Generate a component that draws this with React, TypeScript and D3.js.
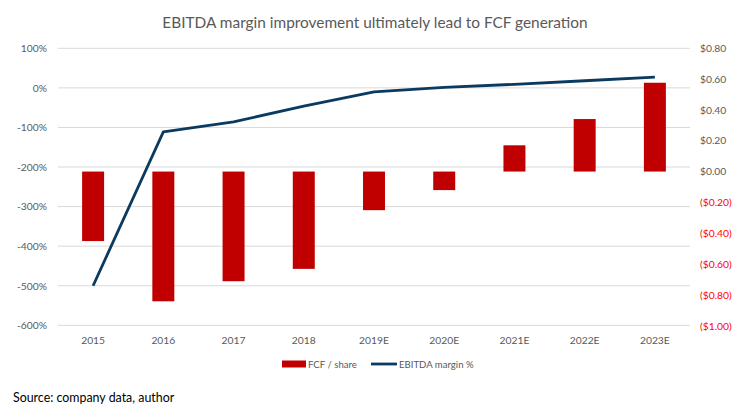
import * as d3 from 'd3'
import { type ReactElement } from 'react'

const years = ['2015', '2016', '2017', '2018', '2019E', '2020E', '2021E', '2022E', '2023E']
const fcfPerShare = [-0.45, -0.84, -0.71, -0.63, -0.25, -0.12, 0.17, 0.34, 0.575]
const ebitdaMargin = [-500, -111, -86, -46, -10, 1, 9, 18, 27]

const title = 'EBITDA margin improvement ultimately lead to FCF generation'
const source = 'Source: company data, author'

const width = 745
const height = 415
const plot = { left: 58, right: 690, top: 48.3, bottom: 325.3 }

const font = 'Lato, "Open Sans", sans-serif'
const grey = '#595959'
const barColor = '#c00000'
const lineColor = '#0a3a60'

function formatDollar(v: number): string {
  const r = Math.round(v * 100) / 100
  if (r < 0) return `($${Math.abs(r).toFixed(2)})`
  return `$${Math.abs(r).toFixed(2)}`
}

export default function App(): ReactElement {
  const x = d3.scaleBand<string>().domain(years).range([plot.left, plot.right]).paddingInner(0.687).paddingOuter(0.3435)
  const yLeft = d3.scaleLinear().domain([-600, 100]).range([plot.bottom, plot.top])
  const yRight = d3.scaleLinear().domain([-1, 0.8]).range([plot.bottom + 0.7, plot.top - 0.3])

  const center = (c: string) => (x(c) ?? 0) + x.bandwidth() / 2
  const leftTicks = yLeft.ticks(7)
  const rightTicks = d3.range(10).map((i) => -1 + i * 0.2)

  const line = d3
    .line<number>()
    .x((_, i) => center(years[i]!))
    .y((d) => yLeft(d))

  return (
    <svg
      width={width}
      height={height}
      style={{ position: 'absolute', left: 0, top: 0, background: '#fff' }}
      fontFamily={font}
    >
      <text x={375} y={28} textAnchor="middle" fontSize={15.4} fill={grey}>
        {title}
      </text>

      {leftTicks.map((t) => (
        <g key={t}>
          <line x1={plot.left} x2={plot.right} y1={yLeft(t)} y2={yLeft(t)} stroke="#d9d9d9" strokeWidth={1} />
          <text x={47} y={yLeft(t) + 3.8} textAnchor="end" fontSize={10.3} fill={grey}>
            {`${t}%`}
          </text>
        </g>
      ))}

      {rightTicks.map((t, i) => (
        <text key={i} x={700} y={yRight(t) + 3.8} fontSize={10.3} fill={t < -0.001 ? '#ff0000' : grey}>
          {formatDollar(t)}
        </text>
      ))}

      {years.map((c, i) => {
        const v = fcfPerShare[i]!
        const y0 = yRight(0)
        const y1 = yRight(v)
        return (
          <rect
            key={c}
            x={x(c)}
            width={x.bandwidth()}
            y={Math.min(y0, y1)}
            height={Math.abs(y1 - y0)}
            fill={barColor}
          />
        )
      })}

      <path d={line(ebitdaMargin) ?? ''} fill="none" stroke={lineColor} strokeWidth={2.8} strokeLinejoin="round" />

      {years.map((c) => (
        <text key={c} x={center(c)} y={343.5} textAnchor="middle" fontSize={10.3} fill={grey}>
          {c}
        </text>
      ))}

      <g fontSize={9.6} fill={grey}>
        <rect x={282} y={360.5} width={24} height={7} fill={barColor} />
        <text x={308} y={367.5}>FCF / share</text>
        <line x1={371} x2={397} y1={364} y2={364} stroke={lineColor} strokeWidth={2.8} />
        <text x={399} y={367.5}>EBITDA margin %</text>
      </g>

      <text x={13} y={401.5} fontSize={12.4} fill="#000">
        {source}
      </text>
    </svg>
  )
}
